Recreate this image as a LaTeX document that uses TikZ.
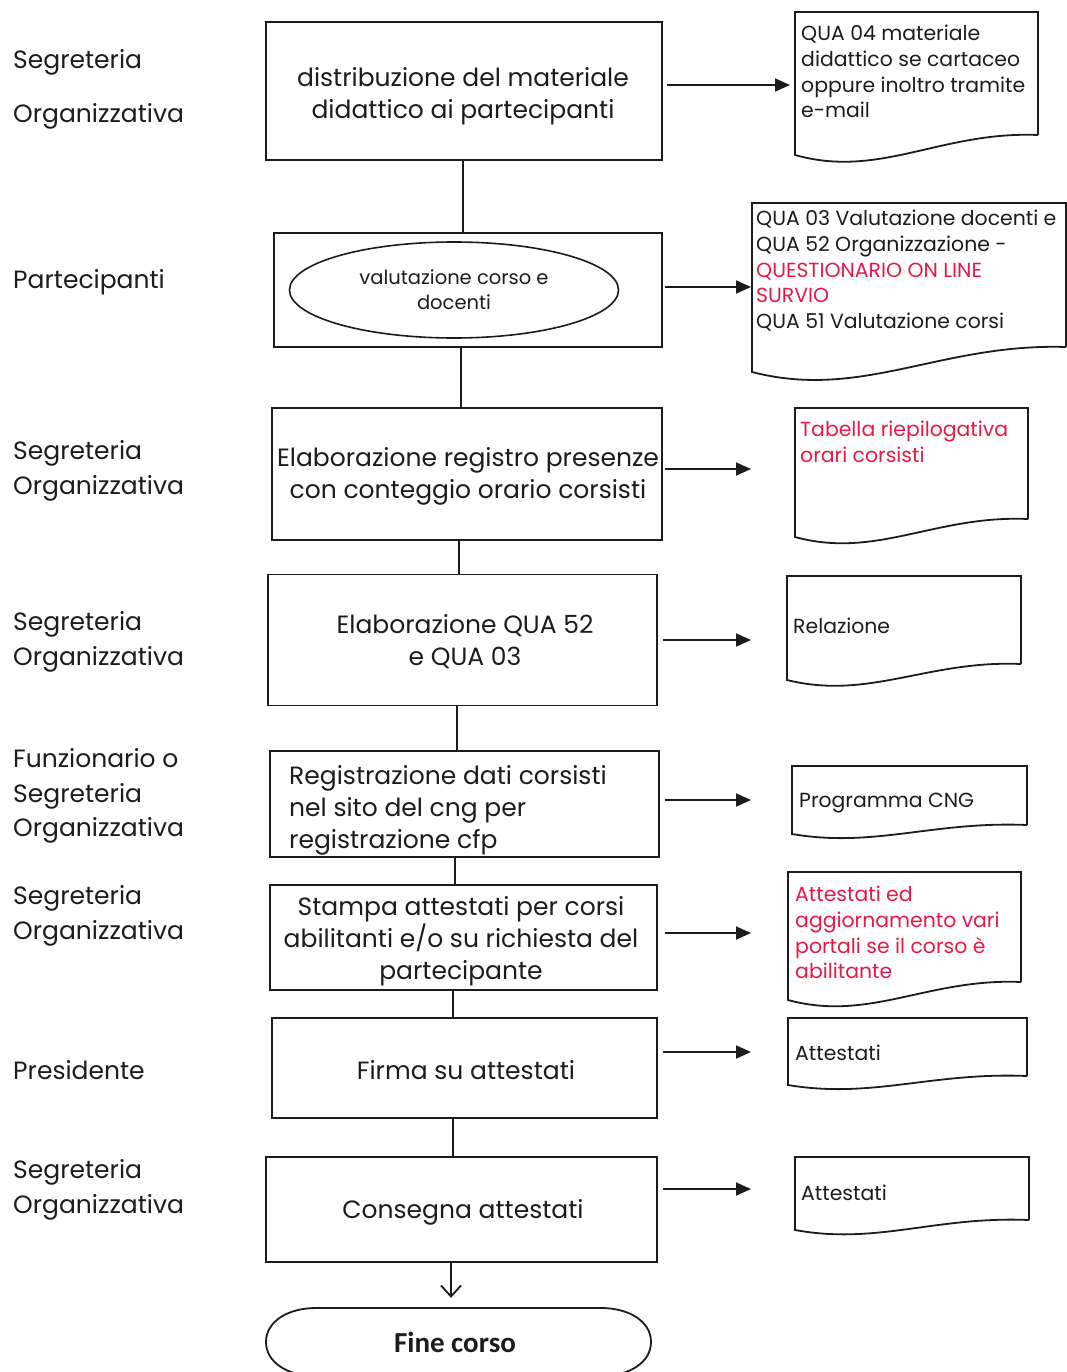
\documentclass[tikz,border=0pt]{standalone}
\usepackage{fontspec}
\setmainfont{Poppins}
\newfontfamily\finefont{Carlito}
\usetikzlibrary{arrows.meta,shapes.geometric,calc}
\definecolor{docred}{RGB}{232,24,70}
\definecolor{ink}{RGB}{28,28,30}
\newcommand\docshp[5]{%
 \pgfmathsetmacro\wA{#1+0.35*(#2-#1)}%
 \pgfmathsetmacro\wB{#1+0.6*(#2-#1)}%
 \pgfmathsetmacro\hA{#4+(#4-#5)*0.9+6}%
 \pgfmathsetmacro\hB{#5-4}%
 \draw[docline] (#2,#5) -- (#2,#3) -- (#1,#3) -- (#1,#4) .. controls (\wA,\hA) and (\wB,\hB) .. (#2,#5);}
\tikzset{
 docline/.style={line width=1.8pt, draw=ink},
 box/.style={draw=ink, line width=1.8pt, inner sep=0pt, align=center, text=ink,
   font=\fontsize{25}{32}\selectfont},
 boxtxt/.style={inner sep=0pt, align=center, text=ink, font=\fontsize{25}{32}\selectfont},
 lab/.style={anchor=west, align=left, inner sep=0pt, text=ink,
   font=\fontsize{25}{34.5}\selectfont},
 doctxt/.style={anchor=north west, align=left, inner sep=0pt, text=ink,
   font=\fontsize{20.4}{25.7}\selectfont},
 conn/.style={line width=1.8pt, draw=ink},
 arr/.style={line width=1.8pt, draw=ink, -{Triangle[length=15pt,width=13pt]}},
}
\begin{document}
\begin{tikzpicture}[x=1pt,y=-1pt]
\useasboundingbox (0,0) rectangle (1067,1372);
\clip (0,0) rectangle (1067,1372);
% left labels
\node[lab] (lab1) at (13,89) {Segreteria\\[19.5pt]Organizzativa};
\node[lab] (lab2) at (13,282) {Partecipanti};
\node[lab] (lab3) at (13,471) {Segreteria\\Organizzativa};
\node[lab] (lab4) at (13,642) {Segreteria\\Organizzativa};
\node[lab] (lab5) at (13,796) {Funzionario o\\Segreteria\\Organizzativa};
\node[lab] (lab6) at (13,916) {Segreteria\\Organizzativa};
\node[lab] (lab7) at (13,1070) {Presidente};
\node[lab] (lab8) at (13,1190) {Segreteria\\Organizzativa};
% boxes
\node[box, minimum width=396pt, minimum height=138pt] (b1) at (464,91) {};
\node[boxtxt] (t1) at (463,96) {distribuzione del materiale\\didattico ai partecipanti};
\node[box, minimum width=388pt, minimum height=114pt] (b2) at (468,290) {};
\node[draw=ink, line width=1.6pt, ellipse, minimum width=329pt, minimum height=96pt, inner sep=0pt, align=center, text=ink, font=\fontsize{19.5}{25}\selectfont] (ell) at (454,290) {valutazione corso e\\docenti};
\node[box, minimum width=390pt, minimum height=132pt] (b3) at (467,474) {};
\node[boxtxt] (t3) at (468,476) {Elaborazione registro presenze\\con conteggio orario corsisti};
\node[box, minimum width=389pt, minimum height=131pt] (b4) at (462.5,640) {};
\node[boxtxt] (t4) at (465,642) {Elaborazione QUA 52\\e QUA 03};
\node[box, minimum width=389pt, minimum height=106pt] (b5) at (464.5,804) {};
\node[boxtxt, anchor=west, align=left] (t5) at (289,810) {Registrazione dati corsisti\\nel sito del cng per\\registrazione cfp};
\node[box, minimum width=387pt, minimum height=105pt] (b6) at (463.5,937.5) {};
\node[boxtxt] (t6) at (461,941) {Stampa attestati per corsi\\abilitanti e/o su richiesta del\\partecipante};
\node[box, minimum width=385pt, minimum height=100pt] (b7) at (464.5,1068) {};
\node[boxtxt] (t7) at (466,1070) {Firma su attestati};
\node[box, minimum width=391pt, minimum height=105pt] (b8) at (461.5,1209.5) {};
\node[boxtxt] (t8) at (463,1212) {Consegna attestati};
% terminal
\node[minimum width=385pt, minimum height=68pt, inner sep=0pt, text=ink, font=\fontsize{29}{32}\selectfont\finefont\bfseries] (fine) at (455,1342) {Fine corso};
\draw[conn] (316,1308) -- (601,1308) .. controls (630,1308) and (651,1322) .. (651,1342) .. controls (651,1362) and (630,1376) .. (601,1376) -- (316,1376) .. controls (287,1376) and (266,1362) .. (266,1342) .. controls (266,1322) and (287,1308) .. (316,1308) -- cycle;
% vertical connectors
\draw[conn] (b1.south -| 463,0) -- (b2.north -| 463,0);
\draw[conn] (b2.south -| 461,0) -- (b3.north -| 461,0);
\draw[conn] (b3.south -| 459,0) -- (b4.north -| 459,0);
\draw[conn] (b4.south -| 457,0) -- (b5.north -| 457,0);
\draw[conn] (b5.south -| 455,0) -- (b6.north -| 455,0);
\draw[conn] (b6.south -| 453,0) -- (b7.north -| 453,0);
\draw[conn] (b7.south -| 453,0) -- (b8.north -| 453,0);
\draw[conn, -{Straight Barb[length=11pt,width=20pt]}, shorten >=10pt] (b8.south -| 451,0) -- (fine.north -| 451,0);
% documents
\docshp{795}{1038}{12}{155}{135}
\docshp{752}{1066}{203}{372}{347}
\docshp{795}{1028}{408}{537}{519}
\docshp{787}{1021}{576}{680}{664}
\docshp{792}{1027}{766}{834}{825}
\docshp{788}{1021}{872}{1000}{982}
\docshp{788}{1027}{1018}{1085}{1076}
\docshp{795}{1029}{1157}{1230}{1220}
\node[doctxt] (d1) at (801,25) {QUA 04 materiale\\didattico se cartaceo\\oppure inoltro tramite\\e-mail};
\node[doctxt] (d2) at (756,210) {QUA 03 Valutazione docenti e\\QUA 52 Organizzazione -\\\textcolor{docred}{QUESTIONARIO ON LINE}\\\textcolor{docred}{SURVIO}\\QUA 51 Valutazione corsi};
\node[doctxt, text=docred] (d3) at (800,421) {Tabella riepilogativa\\orari corsisti};
\node[doctxt] (d4) at (793,618) {Relazione};
\node[doctxt] (d5) at (799,793) {Programma CNG};
\node[doctxt, text=docred] (d6) at (795,886) {Attestati ed\\aggiornamento vari\\portali se il corso è\\abilitante};
\node[doctxt] (d7) at (795,1045) {Attestati};
\node[doctxt] (d8) at (801,1185) {Attestati};
% arrow ends
\coordinate (a1) at (790,85);
\coordinate (a2) at (751,287);
\coordinate (a3) at (751,469);
\coordinate (a4) at (751,640);
\coordinate (a5) at (751,800);
\coordinate (a6) at (751,933);
\coordinate (a7) at (751,1052);
\coordinate (a8) at (751,1189);
\draw[arr] ([xshift=4pt]b1.east |- a1) -- (a1);
\draw[arr] ([xshift=2pt]b2.east |- a2) -- (a2);
\draw[arr] ([xshift=2pt]b3.east |- a3) -- (a3);
\draw[arr] ([xshift=5pt]b4.east |- a4) -- (a4);
\draw[arr] ([xshift=5pt]b5.east |- a5) -- (a5);
\draw[arr] ([xshift=7pt]b6.east |- a6) -- (a6);
\draw[arr] ([xshift=5pt]b7.east |- a7) -- (a7);
\draw[arr] ([xshift=5pt]b8.east |- a8) -- (a8);
\end{tikzpicture}
\end{document}
